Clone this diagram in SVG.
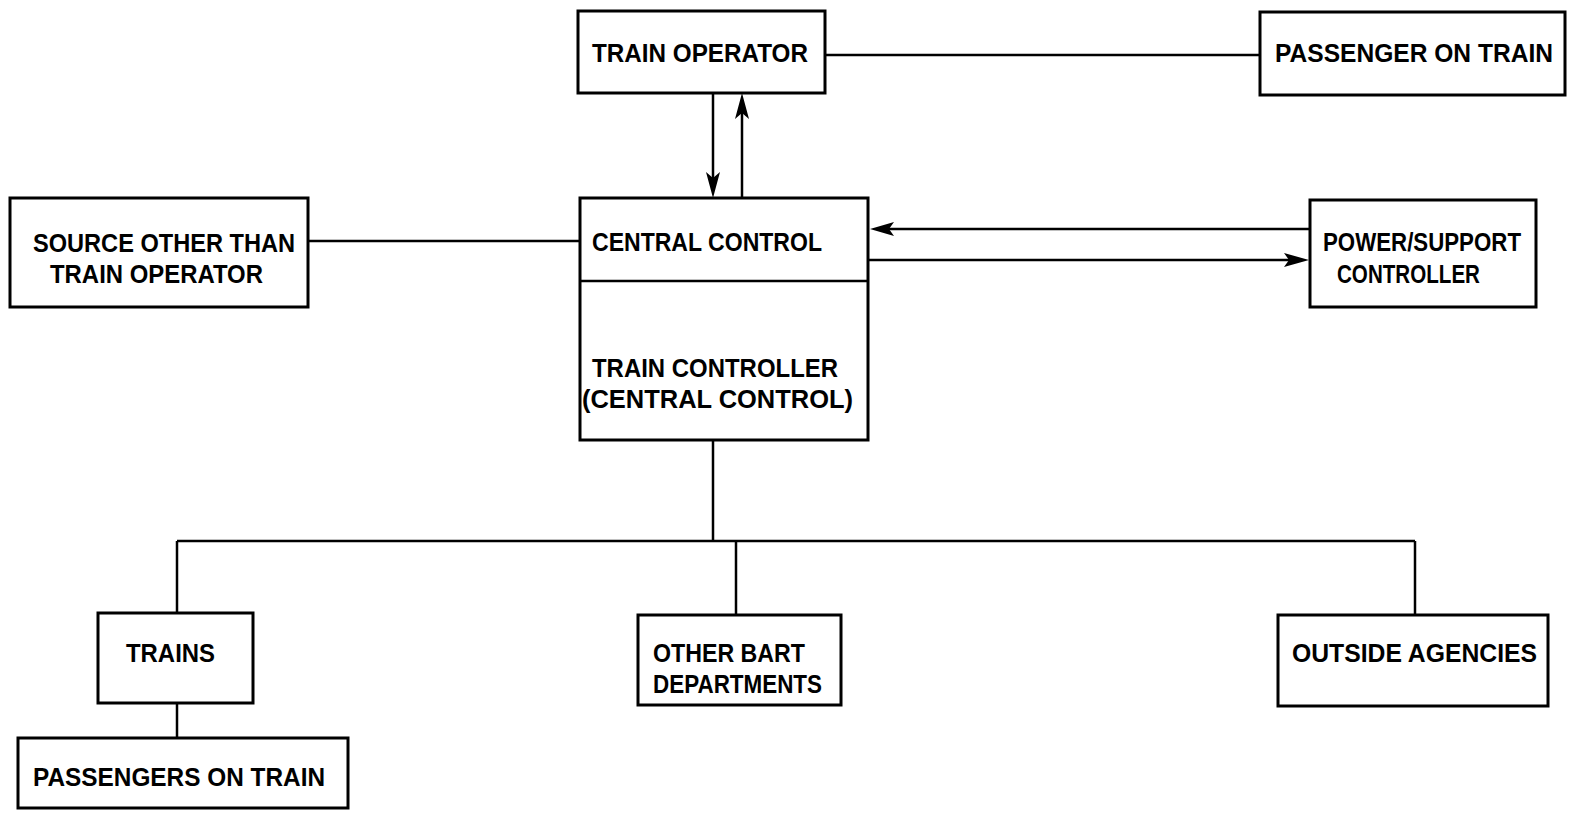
<svg xmlns="http://www.w3.org/2000/svg" width="1580" height="816" viewBox="0 0 1580 816">
<style>
.box{fill:#fff;stroke:#000;stroke-width:3}
.ln{fill:none;stroke:#000;stroke-width:2.5}
.hd{fill:#000;stroke:none}
text{font-family:"Liberation Sans",Arial,sans-serif;font-size:25px;font-weight:bold;fill:#000}
</style>
<rect width="1580" height="816" fill="#fff"/>
<g id="connectors">
<line class="ln" x1="825" y1="55" x2="1260" y2="55"/>
<line class="ln" x1="713" y1="93" x2="713" y2="185"/>
<path class="hd" d="M713,198 L706,172 L713,178 L720,172 Z"/>
<line class="ln" x1="742" y1="198" x2="742" y2="105"/>
<path class="hd" d="M742,93 L735,119 L742,113 L749,119 Z"/>
<line class="ln" x1="308" y1="241" x2="580" y2="241"/>
<line class="ln" x1="1310" y1="229" x2="882" y2="229"/>
<path class="hd" d="M870,229 L894,222 L889,229 L894,236 Z"/>
<line class="ln" x1="868" y1="260" x2="1296" y2="260"/>
<path class="hd" d="M1309,260 L1284,253 L1289,260 L1284,267 Z"/>
<line class="ln" x1="713" y1="440" x2="713" y2="541"/>
<line class="ln" x1="177" y1="541" x2="1415" y2="541"/>
<line class="ln" x1="177" y1="541" x2="177" y2="613"/>
<line class="ln" x1="736" y1="541" x2="736" y2="615"/>
<line class="ln" x1="1415" y1="541" x2="1415" y2="615"/>
<line class="ln" x1="177" y1="703" x2="177" y2="738"/>
</g>
<g id="train-operator">
<rect class="box" x="578" y="11" width="247" height="82"/>
<text x="592" y="62" textLength="216" lengthAdjust="spacingAndGlyphs">TRAIN OPERATOR</text>
</g>
<g id="passenger-on-train">
<rect class="box" x="1260" y="12" width="305" height="83"/>
<text x="1275" y="62" textLength="278" lengthAdjust="spacingAndGlyphs">PASSENGER ON TRAIN</text>
</g>
<g id="source-other">
<rect class="box" x="10" y="198" width="298" height="109"/>
<text x="33" y="252" textLength="262" lengthAdjust="spacingAndGlyphs">SOURCE OTHER THAN</text>
<text x="50" y="283" textLength="213" lengthAdjust="spacingAndGlyphs">TRAIN OPERATOR</text>
</g>
<g id="central-control">
<rect class="box" x="580" y="198" width="288" height="242"/>
<line class="ln" x1="580" y1="281" x2="868" y2="281"/>
<text x="592" y="251" textLength="230" lengthAdjust="spacingAndGlyphs">CENTRAL CONTROL</text>
<text x="592" y="377" textLength="246" lengthAdjust="spacingAndGlyphs">TRAIN CONTROLLER</text>
<text x="582" y="408" textLength="271" lengthAdjust="spacingAndGlyphs">(CENTRAL CONTROL)</text>
</g>
<g id="power-support">
<rect class="box" x="1310" y="200" width="226" height="107"/>
<text x="1323" y="251" textLength="198" lengthAdjust="spacingAndGlyphs">POWER/SUPPORT</text>
<text x="1337" y="283" textLength="143" lengthAdjust="spacingAndGlyphs">CONTROLLER</text>
</g>
<g id="trains">
<rect class="box" x="98" y="613" width="155" height="90"/>
<text x="126" y="662" textLength="89" lengthAdjust="spacingAndGlyphs">TRAINS</text>
</g>
<g id="other-bart">
<rect class="box" x="638" y="615" width="203" height="90"/>
<text x="653" y="662" textLength="152" lengthAdjust="spacingAndGlyphs">OTHER BART</text>
<text x="653" y="693" textLength="169" lengthAdjust="spacingAndGlyphs">DEPARTMENTS</text>
</g>
<g id="outside-agencies">
<rect class="box" x="1278" y="615" width="270" height="91"/>
<text x="1292" y="662" textLength="245" lengthAdjust="spacingAndGlyphs">OUTSIDE AGENCIES</text>
</g>
<g id="passengers-on-train">
<rect class="box" x="18" y="738" width="330" height="70"/>
<text x="33" y="786" textLength="292" lengthAdjust="spacingAndGlyphs">PASSENGERS ON TRAIN</text>
</g>
</svg>
